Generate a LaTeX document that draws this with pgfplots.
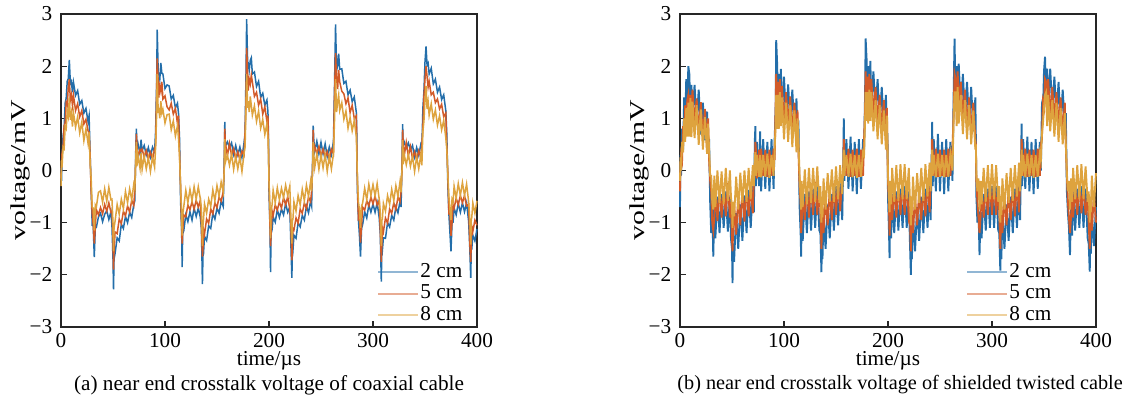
\documentclass[border=0pt]{standalone}
\usepackage{fontspec}
\setmainfont{Liberation Serif}
\usepackage{pgfplots}
\usepackage{pgfplotstable}
\pgfplotsset{compat=1.18}

\definecolor{ctwo}{RGB}{35,110,170}
\definecolor{cfive}{RGB}{210,90,40}
\definecolor{ceight}{RGB}{222,163,62}
\newcommand\fsz{\fontsize{8.5pt}{10pt}\selectfont}

% coaxial cable: t [us], 2 cm, 5 cm, 8 cm [mV]
\pgfplotstableread{
t b o y
0 0.05 -0.15 -0.30
0.5 -0.20 0.10 0.20
1 0.22 0.34 0.06
2 0.66 0.44 0.45
3 0.80 0.86 0.42
4 1.29 0.91 0.84
5 1.39 1.30 0.80
6 1.71 1.25 1.14
7 1.76 1.60 1.04
8 2.12 1.75 1.40
9 1.67 1.35 0.97
10 1.71 1.45 1.10
11 1.50 1.25 0.84
12 1.69 1.44 1.11
14 1.44 1.15 0.83
16 1.53 1.28 1.03
18 1.27 1.03 0.72
20 1.34 1.15 0.93
22 1.10 0.89 0.57
24 1.19 0.98 0.80
26 0.94 0.76 0.52
27 1.05 0.74 0.73
28 0.32 0.30 0.15
29 -0.34 -0.42 -0.15
30 -1.05 -0.83 -0.70
31 -1.06 -1.05 -0.72
32 -1.66 -1.40 -1.15
33 -1.09 -1.06 -0.66
34 -1.09 -0.75 -0.70
36 -0.89 -0.85 -0.42
38 -0.82 -0.71 -0.39
40 -0.98 -0.83 -0.61
42 -0.84 -0.65 -0.35
44 -0.77 -0.78 -0.59
46 -0.94 -0.62 -0.32
48 -0.79 -0.80 -0.56
49 -1.06 -0.78 -0.55
50 -1.69 -1.29 -1.00
50.5 -2.28 -1.90 -1.55
51 -1.70 -1.55 -1.10
52 -1.59 -1.18 -0.97
54 -1.29 -1.21 -0.65
56 -1.35 -0.93 -0.84
58 -1.03 -1.02 -0.55
60 -1.11 -0.78 -0.73
62 -0.88 -0.87 -0.40
64 -1.00 -0.68 -0.62
66 -0.80 -0.80 -0.35
68 -0.90 -0.57 -0.56
70 -0.65 -0.67 -0.26
71 -0.58 -0.36 -0.35
72 0.51 0.30 0.27
72.5 0.80 0.70 0.55
73 0.41 0.48 0.08
74 0.52 0.26 0.29
76 0.32 0.40 0.04
77 0.59 0.37 0.34
78 0.38 0.41 0.02
80 0.48 0.26 0.28
82 0.30 0.38 0.03
84 0.44 0.22 0.25
86 0.26 0.35 -0.02
88 0.45 0.21 0.26
90 0.36 0.42 0.06
91 0.76 0.48 0.45
92 1.71 1.60 1.10
92.5 2.70 2.15 1.85
93.5 1.87 1.68 1.10
94 1.86 1.40 1.20
95 1.75 1.62 1.00
96 2.06 1.52 1.33
97 1.86 1.70 1.10
98 1.85 1.37 1.17
100 1.57 1.43 0.91
102 1.64 1.22 1.07
104 1.62 1.16 1.08
106 1.37 1.29 0.78
108 1.44 1.08 0.95
110 1.20 1.19 0.66
112 1.29 0.90 0.86
113 1.09 1.05 0.61
114 0.61 0.32 0.25
115 -0.59 -0.33 -0.30
116 -1.14 -1.08 -0.80
116.5 -1.85 -1.40 -1.25
117 -1.21 -1.17 -0.85
118 -1.16 -0.85 -0.70
120 -0.85 -0.89 -0.38
122 -0.98 -0.66 -0.62
124 -0.79 -0.75 -0.36
126 -0.95 -0.60 -0.58
128 -0.72 -0.74 -0.31
130 -0.88 -0.57 -0.55
132 -0.72 -0.70 -0.31
134 -0.90 -0.57 -0.55
135 -1.11 -1.05 -0.72
136 -2.18 -1.65 -1.45
136.5 -1.64 -1.50 -1.05
137 -1.60 -1.13 -0.95
138 -1.26 -1.22 -0.64
140 -1.34 -0.93 -0.82
142 -1.06 -1.01 -0.55
144 -1.11 -0.74 -0.69
146 -0.82 -0.83 -0.37
148 -0.93 -0.62 -0.58
150 -0.72 -0.71 -0.29
152 -0.82 -0.51 -0.49
154 -0.59 -0.59 -0.22
156 -0.69 -0.40 -0.41
157 0.26 0.08 0.05
157.5 0.93 0.80 0.60
158 0.47 0.54 0.15
160 0.55 0.28 0.30
162 0.44 0.52 0.10
164 0.53 0.29 0.32
166 0.31 0.42 0.02
168 0.48 0.22 0.27
170 0.30 0.36 0.03
172 0.45 0.21 0.26
174 0.25 0.37 -0.02
176 0.53 0.29 0.32
177 0.71 0.75 0.45
178 1.99 1.50 1.25
178.5 2.90 2.35 1.85
179.5 2.04 1.84 1.20
180 2.05 1.53 1.33
181 1.92 1.75 1.12
182 2.11 1.66 1.42
183 2.16 1.83 1.25
184 1.85 1.70 1.06
186 1.89 1.42 1.24
188 1.61 1.50 0.94
190 1.71 1.25 1.14
192 1.40 1.37 0.81
194 1.48 1.08 0.98
196 1.25 1.22 0.69
198 1.35 0.94 0.90
199 1.12 1.05 0.63
199.5 0.66 0.45 0.35
200 -0.40 -0.15 -0.20
201 -1.14 -1.10 -0.75
201.5 -1.95 -1.45 -1.30
202 -1.21 -1.20 -0.80
203 -1.13 -0.78 -0.65
204 -0.89 -0.86 -0.38
206 -0.99 -0.66 -0.62
208 -0.75 -0.76 -0.33
210 -0.90 -0.60 -0.56
212 -0.74 -0.72 -0.34
214 -0.85 -0.52 -0.52
216 -0.63 -0.66 -0.28
218 -0.80 -0.50 -0.48
220 -0.70 -0.74 -0.30
221 -1.38 -1.00 -0.85
222 -2.06 -1.72 -1.40
222.5 -1.50 -1.45 -0.95
223 -1.54 -1.11 -0.94
224 -1.24 -1.14 -0.60
226 -1.30 -0.91 -0.78
228 -1.00 -1.01 -0.48
230 -1.08 -0.74 -0.66
232 -0.86 -0.82 -0.36
234 -0.95 -0.62 -0.58
236 -0.68 -0.73 -0.28
238 -0.81 -0.51 -0.50
240 -0.59 -0.60 -0.21
241 -0.68 -0.39 -0.40
242 0.29 0.07 0.05
242.5 0.86 0.78 0.55
243 0.61 0.36 0.34
244 0.37 0.46 0.06
246 0.56 0.32 0.32
248 0.32 0.46 0.02
250 0.54 0.28 0.30
252 0.32 0.41 0.05
254 0.51 0.25 0.31
256 0.27 0.36 -0.02
258 0.45 0.19 0.28
260 0.30 0.41 0.03
262 0.56 0.32 0.32
263 1.61 1.45 0.95
264 2.80 2.25 1.75
265 1.92 1.76 1.12
266 2.01 1.56 1.32
267 2.24 1.93 1.45
268 1.94 1.70 1.15
270 1.95 1.52 1.30
272 1.67 1.47 0.98
274 1.71 1.28 1.14
276 1.45 1.39 0.81
278 1.54 1.11 1.02
280 1.32 1.25 0.76
282 1.41 1.00 0.96
284 1.11 1.05 0.64
284.5 0.60 0.32 0.28
285 -0.38 -0.20 -0.15
286 -0.94 -0.92 -0.60
287 -1.25 -0.88 -0.75
288 -1.65 -1.38 -1.10
289 -1.11 -1.06 -0.68
290 -1.04 -0.70 -0.63
292 -0.79 -0.76 -0.34
294 -0.91 -0.58 -0.56
296 -0.66 -0.68 -0.26
298 -0.80 -0.51 -0.48
300 -0.64 -0.64 -0.27
302 -0.80 -0.49 -0.49
304 -0.62 -0.66 -0.25
306 -0.91 -0.57 -0.55
307 -1.21 -1.15 -0.80
308 -2.13 -1.75 -1.45
308.5 -1.50 -1.42 -0.95
309 -1.54 -1.10 -0.94
310 -1.29 -1.18 -0.63
312 -1.30 -0.91 -0.78
314 -1.00 -1.01 -0.48
316 -1.08 -0.74 -0.65
318 -0.86 -0.82 -0.36
320 -0.95 -0.62 -0.58
322 -0.70 -0.75 -0.29
324 -0.81 -0.51 -0.50
326 -0.59 -0.60 -0.21
327 -0.70 -0.40 -0.42
328 0.30 0.07 0.05
328.5 0.89 0.78 0.58
329 0.49 0.54 0.12
330 0.55 0.28 0.31
332 0.43 0.54 0.11
334 0.53 0.28 0.32
336 0.39 0.46 0.08
338 0.48 0.23 0.27
340 0.26 0.36 -0.02
342 0.44 0.20 0.26
344 0.29 0.38 0.03
346 0.50 0.26 0.31
347 0.44 0.49 0.10
348 1.20 0.85 0.75
349 1.52 1.42 0.95
350 2.08 1.75 1.35
351 2.38 2.00 1.62
352 2.02 1.80 1.18
353 2.06 1.60 1.32
354 1.85 1.71 1.06
356 1.96 1.45 1.28
358 1.66 1.50 0.98
360 1.75 1.30 1.16
362 1.50 1.37 0.87
364 1.60 1.18 1.05
366 1.36 1.27 0.78
368 1.45 1.03 0.96
370 1.15 1.10 0.63
371 0.69 0.44 0.40
372 -0.30 -0.08 -0.10
373 -0.84 -0.83 -0.50
374 -1.19 -0.83 -0.75
375 -1.55 -1.25 -0.95
376 -1.00 -1.00 -0.55
377 -0.99 -0.66 -0.60
378 -0.72 -0.72 -0.30
380 -0.85 -0.53 -0.53
382 -0.63 -0.66 -0.25
384 -0.80 -0.48 -0.48
386 -0.62 -0.62 -0.23
388 -0.79 -0.48 -0.48
390 -0.62 -0.68 -0.26
392 -0.98 -0.65 -0.60
393 -1.44 -1.35 -0.90
394 -2.06 -1.75 -1.42
394.5 -1.50 -1.40 -0.95
395 -1.50 -1.07 -0.90
396 -1.24 -1.17 -0.62
398 -1.35 -0.95 -0.82
400 -1.12 -1.05 -0.58
}\coax

% shielded twisted cable
\pgfplotstableread{
t b o y
0 -0.70 -0.40 -0.20
0.5 0.30 0.10 0.25
1 -0.10 0.30 0.00
2 0.80 0.20 0.55
3 0.40 0.85 0.35
4 1.40 0.60 1.00
5 0.90 1.25 0.55
6 1.75 0.95 1.20
7 1.20 1.35 0.65
8 2.00 1.45 1.30
9 1.85 0.96 0.65
10 1.00 1.45 1.39
11 1.64 0.85 0.64
12 1.00 1.55 1.32
14 1.64 0.88 0.62
16 0.93 1.38 1.25
18 1.55 0.69 0.49
20 0.69 1.31 1.17
22 1.30 0.65 0.40
24 0.58 1.18 1.02
26 1.13 0.40 0.32
27 0.45 1.00 0.90
28 0.60 0.20 0.40
29 -0.60 -0.20 -0.10
30 -1.20 -0.40 -0.10
31 -0.60 -1.00 -0.60
32 -1.65 -1.15 -0.75
33 -0.70 -0.90 -0.10
34 -1.30 -0.35 -0.70
36 -0.50 -0.97 0.00
38 -1.20 -0.30 -0.63
40 -0.45 -0.90 -0.02
42 -1.10 -0.30 -0.65
44 -0.40 -0.88 0.05
46 -1.17 -0.24 -0.58
48 -0.50 -0.90 0.00
49 -1.30 -0.60 -0.50
50 -1.50 -1.30 -0.70
50.5 -2.16 -1.55 -1.10
51 -1.40 -1.20 -0.60
52 -1.75 -0.63 -0.88
54 -0.82 -1.23 -0.12
56 -1.50 -0.50 -0.75
58 -0.65 -1.05 -0.04
60 -1.35 -0.36 -0.62
62 -0.48 -0.98 0.00
64 -1.20 -0.30 -0.60
66 -0.37 -0.88 0.05
68 -1.10 -0.25 -0.55
70 -0.30 -0.82 0.10
71 -0.80 -0.20 -0.30
72 0.60 0.10 0.25
72.5 0.85 0.55 0.35
73 -0.30 0.40 -0.10
74 0.55 -0.15 0.30
76 -0.30 0.40 -0.12
77 0.75 0.00 0.30
78 -0.40 0.42 -0.13
80 0.60 -0.10 0.30
82 -0.35 0.40 -0.12
84 0.55 -0.12 0.32
86 -0.40 0.40 -0.14
88 0.60 -0.10 0.30
90 -0.35 0.42 -0.10
91 0.60 0.20 0.40
92 1.20 1.30 0.90
92.5 2.50 1.85 1.45
93.5 2.00 1.10 0.80
94 1.20 1.70 1.45
95 1.85 1.05 0.80
96 1.30 1.75 1.50
97 1.95 1.15 0.85
98 1.15 1.62 1.40
100 1.80 0.90 0.60
102 0.95 1.50 1.30
104 1.65 0.82 0.55
106 0.90 1.42 1.25
108 1.55 0.70 0.45
110 0.75 1.30 1.15
112 1.38 0.60 0.35
113 0.70 1.15 1.00
114 0.80 0.30 0.50
115 -0.70 -0.30 -0.10
116 -1.20 -0.60 -0.50
116.5 -1.65 -1.20 -0.75
117 -0.80 -1.00 -0.20
118 -1.35 -0.45 -0.70
120 -0.45 -0.95 0.02
122 -1.20 -0.30 -0.65
124 -0.40 -0.90 0.05
126 -1.15 -0.25 -0.62
128 -0.35 -0.85 0.05
130 -1.10 -0.22 -0.60
132 -0.30 -0.85 0.08
134 -1.15 -0.30 -0.62
135 -1.20 -0.80 -0.30
136 -1.95 -1.50 -1.00
136.5 -1.30 -1.00 -0.50
137 -1.70 -0.70 -0.90
138 -0.85 -1.20 -0.15
140 -1.50 -0.50 -0.75
142 -0.65 -1.05 -0.05
144 -1.30 -0.35 -0.60
146 -0.45 -0.95 0.02
148 -1.15 -0.25 -0.60
150 -0.30 -0.85 0.08
152 -1.05 -0.20 -0.55
154 -0.25 -0.78 0.10
156 -0.95 -0.10 -0.45
157 0.20 -0.10 0.10
157.5 1.00 0.60 0.40
158 -0.20 0.40 -0.10
160 0.60 -0.10 0.30
162 -0.35 0.42 -0.12
164 0.65 -0.12 0.32
166 -0.40 0.40 -0.13
168 0.55 -0.10 0.30
170 -0.45 0.42 -0.14
172 0.60 -0.12 0.30
174 -0.35 0.40 -0.12
176 0.60 -0.10 0.35
177 0.40 0.60 0.30
178 1.50 1.20 1.00
178.5 2.53 1.90 1.50
179.5 2.10 1.30 0.95
180 1.30 1.80 1.50
181 2.00 1.20 0.90
182 1.40 1.85 1.55
183 2.10 1.25 0.95
184 1.30 1.75 1.50
186 1.90 1.05 0.75
188 1.10 1.60 1.35
190 1.75 0.90 0.60
192 0.95 1.45 1.25
194 1.60 0.78 0.50
196 0.80 1.35 1.15
198 1.45 0.60 0.40
199 0.70 1.20 1.05
199.5 0.70 0.30 0.50
200 -0.50 -0.20 -0.10
201 -1.20 -0.70 -0.50
201.5 -1.68 -1.25 -0.80
202 -0.80 -1.00 -0.20
203 -1.30 -0.40 -0.65
204 -0.45 -0.95 0.05
206 -1.20 -0.30 -0.60
208 -0.40 -0.90 0.10
210 -1.15 -0.25 -0.58
212 -0.35 -0.85 0.12
214 -1.10 -0.20 -0.55
216 -0.30 -0.85 0.12
218 -1.10 -0.25 -0.55
220 -0.40 -0.90 0.05
221 -1.30 -0.80 -0.50
222 -2.00 -1.55 -1.05
222.5 -1.30 -1.00 -0.50
223 -1.70 -0.70 -0.85
224 -0.85 -1.20 -0.12
226 -1.55 -0.50 -0.75
228 -0.70 -1.05 -0.05
230 -1.35 -0.40 -0.62
232 -0.50 -0.95 0.05
234 -1.20 -0.30 -0.58
236 -0.35 -0.88 0.12
238 -1.10 -0.20 -0.50
240 -0.25 -0.80 0.15
241 -0.95 -0.20 -0.40
242 0.30 0.00 0.15
242.5 0.93 0.60 0.40
243 -0.30 0.40 -0.10
244 0.60 -0.10 0.30
246 -0.40 0.42 -0.13
248 0.70 -0.12 0.32
250 -0.40 0.40 -0.12
252 0.55 -0.10 0.30
254 -0.45 0.40 -0.13
256 0.60 -0.12 0.30
258 -0.40 0.42 -0.12
260 0.55 -0.10 0.32
262 -0.20 0.45 0.00
263 1.30 1.00 0.90
264 2.53 1.85 1.50
265 1.30 1.75 1.50
266 2.00 1.15 0.85
267 1.50 1.90 1.60
268 2.05 1.20 0.90
270 1.20 1.70 1.45
272 1.85 1.00 0.70
274 1.05 1.55 1.35
276 1.70 0.85 0.60
278 0.90 1.40 1.25
280 1.60 0.70 0.50
282 0.75 1.30 1.15
284 1.40 0.60 0.40
284.5 0.60 0.50 0.50
285 -0.50 -0.20 -0.10
286 -1.00 -0.60 -0.40
287 -0.70 -0.90 -0.15
288 -1.62 -1.20 -0.75
289 -0.80 -0.90 -0.20
290 -1.30 -0.40 -0.65
292 -0.45 -0.90 0.05
294 -1.15 -0.30 -0.60
296 -0.35 -0.85 0.10
298 -1.10 -0.22 -0.55
300 -0.30 -0.85 0.12
302 -1.10 -0.20 -0.55
304 -0.30 -0.85 0.10
306 -1.15 -0.30 -0.60
307 -1.20 -0.80 -0.30
308 -1.92 -1.50 -1.00
308.5 -1.30 -1.00 -0.50
309 -1.70 -0.70 -0.85
310 -0.85 -1.20 -0.15
312 -1.50 -0.50 -0.75
314 -0.65 -1.05 -0.05
316 -1.35 -0.36 -0.62
318 -0.50 -0.95 0.05
320 -1.20 -0.30 -0.58
322 -0.35 -0.88 0.10
324 -1.10 -0.22 -0.50
326 -0.25 -0.80 0.15
327 -0.95 -0.20 -0.40
328 0.30 0.00 0.15
328.5 0.90 0.60 0.40
329 -0.30 0.40 -0.10
330 0.60 -0.10 0.30
332 -0.35 0.42 -0.13
334 0.65 -0.12 0.32
336 -0.40 0.40 -0.12
338 0.55 -0.10 0.30
340 -0.45 0.40 -0.14
342 0.60 -0.12 0.30
344 -0.35 0.42 -0.12
346 0.55 -0.10 0.32
347 0.00 0.50 0.20
348 1.20 0.60 0.70
349 1.10 1.30 0.90
350 1.90 1.20 1.20
351 2.18 1.75 1.45
352 1.40 1.70 1.50
353 1.95 1.10 0.85
354 1.30 1.75 1.45
356 1.95 1.05 0.75
358 1.15 1.60 1.35
360 1.80 0.95 0.65
362 1.00 1.50 1.30
364 1.70 0.85 0.55
366 0.90 1.40 1.20
368 1.55 0.70 0.50
370 0.85 1.30 1.10
371 1.10 0.50 0.50
372 -0.40 -0.10 -0.05
373 -0.80 -0.60 -0.40
374 -1.10 -0.90 -0.20
375 -1.62 -1.20 -0.75
376 -0.70 -0.90 -0.15
377 -1.25 -0.40 -0.60
378 -0.40 -0.90 0.05
380 -1.15 -0.30 -0.55
382 -0.35 -0.85 0.10
384 -1.10 -0.22 -0.55
386 -0.30 -0.82 0.12
388 -1.10 -0.25 -0.55
390 -0.35 -0.85 0.08
392 -1.30 -0.50 -0.60
393 -1.40 -1.00 -0.40
394 -1.94 -1.50 -1.00
394.5 -1.30 -1.00 -0.50
395 -1.60 -0.70 -0.80
396 -0.80 -1.15 -0.10
398 -1.45 -0.45 -0.70
400 -0.70 -1.00 -0.05
}\stp

\pgfplotsset{
  xtalk/.style={
    scale only axis,
    width=166.4pt, height=125.2pt,
    xmin=0, xmax=400, ymin=-3, ymax=3,
    clip=false,
    xtick={0,100,200,300,400},
    ytick={-3,-2,-1,0,1,2,3},
    yticklabels={−3,−2,−1,0,1,2,3},
    tick align=inside,
    xtick pos=bottom, ytick pos=left,
    major tick length=2.5pt,
    axis line style={line width=0.6pt, black!85},
    tick style={line width=0.5pt, black!85},
    /pgf/number format/assume math mode=true,
    tick label style={font=\fsz},
    xticklabel style={yshift=1pt},
    label style={font=\fsz},
    xlabel={time/µs},
    ylabel={\scalebox{1.4}[1]{voltage/mV}},
    xlabel style={at={(axis description cs:0.5,-0.076)}, anchor=north, inner sep=0pt},
    ylabel style={at={(axis description cs:-0.097,0.5)}, anchor=center},
    legend cell align=left,
    legend image code/.code={\draw[opacity=0.5, line width=0.8pt] (0pt,0pt) -- (16pt,0pt);},
    legend style={draw=none, fill=none, font=\fsz, inner sep=0pt, row sep=0.5pt,
      nodes={inner sep=0.5pt}},
  },
}

\begin{document}
\begin{tikzpicture}
\useasboundingbox (-24.4pt,-30pt) rectangle (426pt,130.8pt);

\begin{axis}[xtalk,
  legend style={at={(rel axis cs:0.969,0.004)}, anchor=south east}]
\addplot[line width=0.6pt, ctwo] table[x=t, y=b]{\coax};
\addlegendentry{2 cm}
\addplot[line width=0.6pt, cfive] table[x=t, y=o]{\coax};
\addlegendentry{5 cm}
\addplot[line width=0.6pt, ceight] table[x=t, y=y]{\coax};
\addlegendentry{8 cm}
\node[font=\fsz, anchor=north, inner sep=0pt] at (rel axis cs:0.5,-0.153)
  {(a) near end crosstalk voltage of coaxial cable};
\end{axis}

\begin{axis}[xtalk, at={(247.6pt,0pt)}, anchor=south west,
  legend style={at={(rel axis cs:0.897,0.004)}, anchor=south east}]
\addplot[line width=0.75pt, ctwo] table[x=t, y=b]{\stp};
\addlegendentry{2 cm}
\addplot[line width=0.75pt, cfive] table[x=t, y=o]{\stp};
\addlegendentry{5 cm}
\addplot[line width=0.75pt, ceight] table[x=t, y=y]{\stp};
\addlegendentry{8 cm}
\node[font=\fontsize{8.1pt}{10pt}\selectfont, anchor=north, inner sep=0pt]
  at (rel axis cs:0.529,-0.153)
  {(b) near end crosstalk voltage of shielded twisted cable};
\end{axis}
\end{tikzpicture}
\end{document}
